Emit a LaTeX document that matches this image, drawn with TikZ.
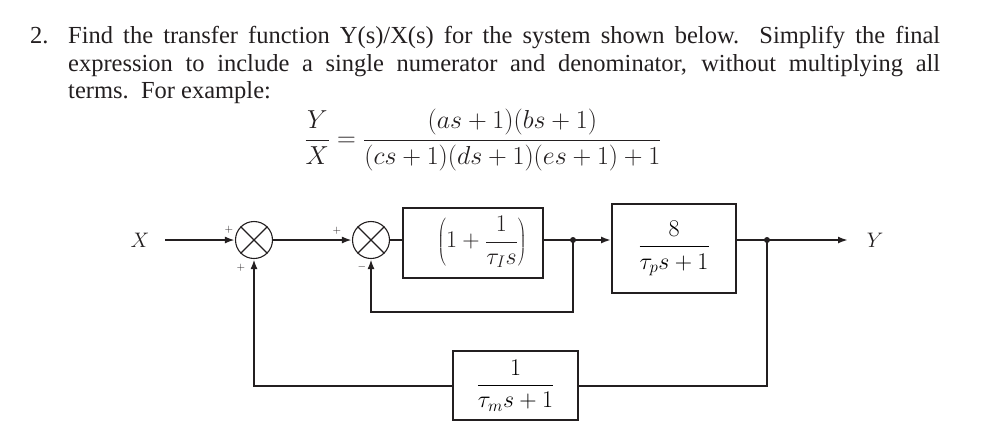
\RequirePackage{fix-cm}
\documentclass[tikz,border=0pt]{standalone}
\usepackage[no-math]{fontspec}
\setmainfont{Liberation Serif}
\usetikzlibrary{arrows.meta}
\definecolor{ink}{HTML}{231F20}
\begin{document}
\begin{tikzpicture}[x=1pt,y=-1pt,
  conn/.style={line width=2.4pt, draw=ink},
  arr/.style={conn,-{Latex[length=10pt,width=7pt]}},
  block/.style={draw=ink, line width=1.8pt, inner sep=0pt},
  sumnode/.style={draw=ink, circle, line width=1.1pt, minimum size=37pt, inner sep=0pt},
  sign/.style={font=\fontsize{11}{11}\selectfont, text=ink, inner sep=0pt},
  lbl/.style={font=\fontsize{21}{21}\selectfont, text=ink, inner sep=0pt},
  mth/.style={font=\fontsize{24}{24}\selectfont, text=ink, inner sep=0pt},
  dot/.style={circle, fill=ink, minimum size=6pt, inner sep=0pt},
  txt/.style={font=\fontsize{24.5}{27.3}\selectfont, text=ink, inner sep=0pt}]
\useasboundingbox (0,0) rectangle (984,437);

% question text
\node[txt, anchor=base west] (qnum) at (30,43) {2.};
\node[txt, anchor=north west, text width=872pt, align=justify] (qtext) at (68,26.5)
  {Find the transfer function Y(s)/X(s) for the system shown below.\ \ Simplify the final\linebreak
   expression to include a single numerator and denominator, without multiplying all\linebreak
   terms.\ \ For example:};
\node[text=ink, inner sep=0pt, font=\fontsize{26}{26}\selectfont] (eq) at (483,140)
  {$\displaystyle\frac{Y}{X}=\frac{(as+1)(bs+1)}{(cs+1)(ds+1)(es+1)+1}$};

% diagram
\node[lbl] (xin) at (140,240) {$X$};
\coordinate (xs) at (165,240);
\node[sumnode] (s1) at (254,240) {};
\draw[ink, line width=1.1pt] (s1.north west) -- (s1.south east) (s1.north east) -- (s1.south west);
\node[sumnode] (s2) at (371,240) {};
\draw[ink, line width=1.1pt] (s2.north west) -- (s2.south east) (s2.north east) -- (s2.south west);

\node[sign] (p1) at (229,230) {$+$};
\node[sign] (p2) at (241,268) {$+$};
\node[sign] (p3) at (337,231) {$+$};
\node[sign] (m1) at (362,267) {$-$};

\node[block, minimum width=140pt, minimum height=70pt] (b1) at (473,243) {};
\node[mth] (b1t) at (482,242) {$\displaystyle\left(1+\frac{1}{\tau_I s}\right)$};
\node[block, minimum width=124pt, minimum height=89pt] (b2) at (674,248.5)
  {\fontsize{24}{24}\selectfont$\displaystyle\frac{8}{\tau_p s+1}$};
\node[block, minimum width=125pt, minimum height=69pt] (b3) at (515.5,385.5)
  {\fontsize{24}{24}\selectfont$\displaystyle\frac{1}{\tau_m s+1}$};

\coordinate (j1) at (573,240);
\coordinate (j2) at (767,240);
\coordinate (yend) at (848,240);
\node[lbl] (yout) at (875,240) {$Y$};
\coordinate (fb1) at (573,312);
\coordinate (fb2) at (767,386);

\draw[arr] (xs) -- (s1.west);
\draw[arr] (s1.east) -- (s2.west);
\draw[conn] (s2.east) -- (s2.east -| b1.west);
\draw[conn] (s2.east -| b1.east) -- (j1);
\draw[arr] (j1) -- (j1 -| b2.west);
\draw[conn] (j1 -| b2.east) -- (j2);
\draw[arr] (j2) -- (yend);
\draw[arr] (j1) -- (fb1) -| (s2.south);
\draw[conn] (j2) -- (fb2) -- (fb2 -| b3.east);
\draw[arr] (fb2 -| b3.west) -| (s1.south);
\node[dot] (d1) at (j1) {};
\node[dot] (d2) at (j2) {};
\end{tikzpicture}
\end{document}
